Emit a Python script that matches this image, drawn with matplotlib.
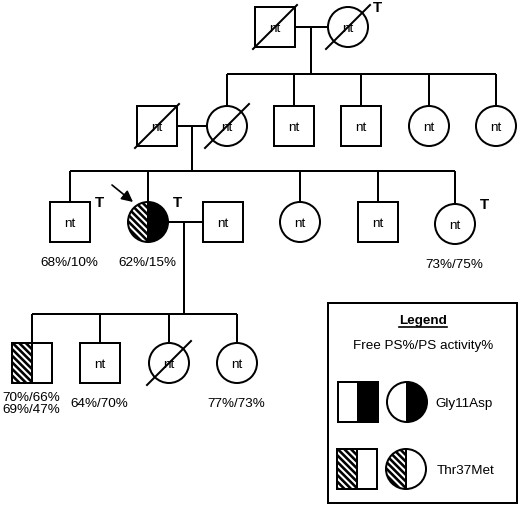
import matplotlib
matplotlib.use("Agg")
import matplotlib.pyplot as plt
import numpy as np
from matplotlib.patches import Rectangle, Circle, Wedge

plt.rcParams['font.family'] = ['Liberation Sans', 'DejaVu Sans']

DPI = 120
W, H = 520, 507

# ---------------- data ----------------
names = ["I1", "I2",
         "II1", "II2", "II3", "II4", "II5", "II6",
         "III1", "III2", "III3", "III4", "III5", "III6",
         "IV1", "IV2", "IV3", "IV4"]
sex = ["M", "F",
       "M", "F", "M", "M", "F", "F",
       "M", "F", "M", "F", "M", "F",
       "M", "M", "F", "F"]
deceased = [True, True,
            True, True, False, False, False, False,
            False, False, False, False, False, False,
            False, False, True, False]
# genotype: nt = not tested, both = compound heterozygote, thr = Thr37Met
status = ["nt", "nt",
          "nt", "nt", "nt", "nt", "nt", "nt",
          "nt", "both", "nt", "nt", "nt", "nt",
          "thr", "nt", "nt", "nt"]
tested_T = [False, True,
            False, False, False, False, False, False,
            True, True, False, False, False, True,
            False, False, False, False]
ps_values = {"III1": "68%/10%", "III2": "62%/15%", "III6": "73%/75%",
             "IV1": "70%/66%\n69%/47%", "IV2": "64%/70%", "IV4": "77%/73%"}
legend_title = "Legend"
legend_sub = "Free PS%/PS activity%"
legend_labels = ["Gly11Asp", "Thr37Met"]

# ---------------- layout (pixels) ----------------
xpos = [275, 348,
        157, 227, 294, 361, 429, 496,
        70, 148, 223, 300, 378, 455,
        32, 100, 169, 237]
ypos = [28, 28,
        127, 127, 127, 127, 127, 127,
        223, 223, 223, 223, 223, 225,
        364, 364, 364, 364]
R = 20

fig = plt.figure(figsize=(W / DPI, H / DPI), dpi=DPI)
ax = fig.add_axes([0, 0, 1, 1])
ax.set_xlim(0, W)
ax.set_ylim(H, 0)
ax.axis('off')

LW = 1.2
pt = lambda px: px * 72.0 / DPI
STRIPE_PERIOD = 6.6     # vertical period of the diagonal stripes, px
STRIPE_W = pt(2.6)


def hatch_into(patch, x, y):
    """draw diagonal (down-right) black stripes clipped to patch"""
    for c in np.arange(-3 * R, 3 * R, STRIPE_PERIOD):
        ln, = ax.plot([x - 2 * R, x + 2 * R], [y - 2 * R + c, y + 2 * R + c],
                      color='black', lw=STRIPE_W, solid_capstyle='butt', zorder=2.5)
        ln.set_clip_path(patch)


def line(x0, y0, x1, y1):
    ax.plot([x0, x1], [y0, y1], color='black', lw=LW, solid_capstyle='butt', zorder=1)


def half_square(x, y, left, right):
    for side, fill in (("L", left), ("R", right)):
        x0 = x - R if side == "L" else x
        fc = 'white' if fill == 'hatch' else fill
        p = Rectangle((x0, y - R), R, 2 * R, facecolor=fc, edgecolor='none', lw=0, zorder=2)
        ax.add_patch(p)
        if fill == 'hatch':
            hatch_into(p, x, y)
    ax.add_patch(Rectangle((x - R, y - R), 2 * R, 2 * R, facecolor='none', edgecolor='black', lw=LW, zorder=3))
    ax.plot([x, x], [y - R, y + R], color='black', lw=LW, zorder=3)


def half_circle(x, y, left, right):
    for (t1, t2), fill in (((90, 270), left), ((270, 90), right)):
        fc = 'white' if fill == 'hatch' else fill
        p = Wedge((x, y), R, t1, t2, facecolor=fc, edgecolor='none', lw=0, zorder=2)
        ax.add_patch(p)
        if fill == 'hatch':
            hatch_into(p, x, y)
    ax.add_patch(Circle((x, y), R, facecolor='none', edgecolor='black', lw=LW, zorder=3))
    ax.plot([x, x], [y - R, y + R], color='black', lw=LW, zorder=3)


def plain(x, y, s):
    if s == "M":
        ax.add_patch(Rectangle((x - R, y - R), 2 * R, 2 * R, facecolor='white', edgecolor='black', lw=LW, zorder=2))
    else:
        ax.add_patch(Circle((x, y), R, facecolor='white', edgecolor='black', lw=LW, zorder=2))


# ---------------- connecting lines ----------------
line(295, 28, 328, 28)
line(311, 28, 311, 75)
line(227, 75, 496, 75)
for i in range(3, 8):
    line(xpos[i], 75, xpos[i], ypos[i] - R)
line(177, 127, 207, 127)
line(192, 127, 192, 172)
line(70, 172, 455, 172)
for i in (8, 9, 11, 12, 13):
    line(xpos[i], 172, xpos[i], ypos[i] - R)
line(168, 223, 203, 223)
line(184, 223, 184, 315)
line(32, 315, 237, 315)
for i in range(14, 18):
    line(xpos[i], 315, xpos[i], ypos[i] - R)

# ---------------- individuals ----------------
for i, n in enumerate(names):
    x, y, s = xpos[i], ypos[i], sex[i]
    if status[i] == "both":
        (half_square if s == "M" else half_circle)(x, y, 'hatch', 'black')
    elif status[i] == "thr":
        (half_square if s == "M" else half_circle)(x, y, 'hatch', 'white')
    else:
        plain(x, y, s)
        ax.text(x, y + 1, "nt", ha='center', va='center', fontsize=pt(13.5), zorder=4)
    if deceased[i]:
        ax.plot([x - 22, x + 22], [y + 22, y - 22], color='black', lw=LW, zorder=5)
    if tested_T[i]:
        ax.text(x + 29, y - 20, "T", ha='center', va='center', fontsize=pt(15), fontweight='bold', zorder=4)
    if n in ps_values:
        ax.text(x - 1, y + 40, ps_values[n], ha='center', va='center', fontsize=pt(13.5),
                linespacing=1.05, zorder=4)

# proband arrow
ax.annotate('', xy=(133, 203), xytext=(112, 186),
            arrowprops=dict(arrowstyle='-|>', lw=1.0, color='black', mutation_scale=14,
                            shrinkA=0, shrinkB=0), zorder=6)

# ---------------- legend box ----------------
ax.add_patch(Rectangle((328, 304), 189, 200, facecolor='white', edgecolor='black', lw=LW, zorder=1))
ax.text(423, 321, legend_title, ha='center', va='center', fontsize=pt(13.5), fontweight='bold')
ax.plot([399, 447], [328, 328], color='black', lw=1.0)
ax.text(423, 346, legend_sub, ha='center', va='center', fontsize=pt(13.5))
half_square(358, 403, 'white', 'black')
half_circle(407, 403, 'white', 'black')
ax.text(435, 404, legend_labels[0], ha='left', va='center', fontsize=pt(13.5))
half_square(357, 470, 'hatch', 'white')
half_circle(406, 470, 'hatch', 'white')
ax.text(437, 471, legend_labels[1], ha='left', va='center', fontsize=pt(13.5))

fig.savefig("out.png", dpi=DPI, facecolor='white')
